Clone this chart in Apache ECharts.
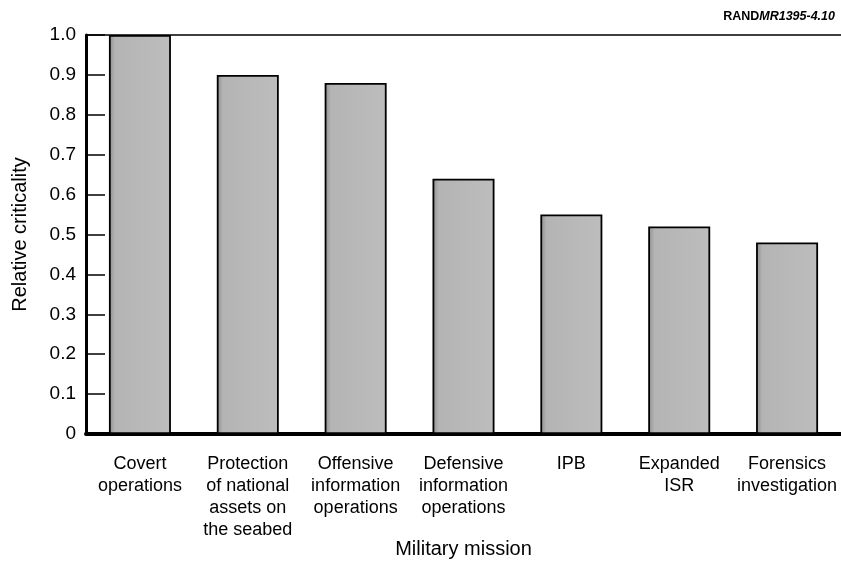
<!DOCTYPE html>
<html>
<head>
<meta charset="utf-8">
<script src="https://cdn.jsdelivr.net/npm/echarts@6/dist/echarts.min.js"></script>
<style>
  html, body { margin: 0; padding: 0; background: #fff; }
  #chart { width: 841px; height: 565px; }
</style>
</head>
<body>
<div id="chart"></div>
<script>
const missions = [
  "Covert\noperations",
  "Protection\nof national\nassets on\nthe seabed",
  "Offensive\ninformation\noperations",
  "Defensive\ninformation\noperations",
  "IPB",
  "Expanded\nISR",
  "Forensics\ninvestigation",
];
const criticality = [1.0, 0.9, 0.88, 0.64, 0.55, 0.52, 0.48];

const font = "Liberation Sans, Arial, Helvetica, sans-serif";
const chart = echarts.init(document.getElementById("chart"), null, { renderer: "canvas" });

// grey fill, a bit darker on the left edge like the scanned bars
const barFill = new echarts.graphic.LinearGradient(0, 0, 1, 0, [
  { offset: 0, color: "#8e8e8e" },
  { offset: 0.1, color: "#b4b4b4" },
  { offset: 1, color: "#bdbdbd" },
]);

const option = {
  backgroundColor: "#fff",
  animation: false,
  textStyle: { fontFamily: font, color: "#000" },
  title: {
    right: 1,
    top: 5,
    text: "{a|RAND}{b|MR1395-4.10}",
    textStyle: {
      rich: {
        a: { fontFamily: font, fontWeight: "bold", fontSize: 12.5, color: "#000" },
        b: { fontFamily: font, fontStyle: "italic", fontSize: 12.5, color: "#000" },
      },
    },
  },
  grid: { left: 86, right: 0, top: 35, bottom: 131, outerBoundsMode: "none" },
  xAxis: [
    {
      type: "category",
      data: missions,
      name: "Military mission",
      nameLocation: "middle",
      nameGap: 105,
      nameMoveOverlap: false,
      nameTextStyle: { fontSize: 20, color: "#000", fontFamily: font },
      axisLine: { lineStyle: { color: "#000", width: 4 } },
      axisTick: { show: false },
      axisLabel: {
        interval: 0,
        color: "#000",
        fontSize: 18,
        lineHeight: 22,
        margin: 19,
        fontFamily: font,
      },
    },
    {
      type: "category",
      position: "top",
      data: missions,
      axisLine: { lineStyle: { color: "#000", width: 1.5 } },
      axisTick: { show: false },
      axisLabel: { show: false },
    },
  ],
  yAxis: {
    type: "value",
    min: 0,
    max: 1,
    interval: 0.1,
    name: "Relative criticality",
    nameLocation: "middle",
    nameGap: 56,
    nameMoveOverlap: false,
    nameTextStyle: { fontSize: 20, color: "#000", fontFamily: font },
    axisLine: { show: true, lineStyle: { color: "#000", width: 3 } },
    axisTick: { show: true, inside: true, length: 19, lineStyle: { color: "#000", width: 1.5 } },
    splitLine: { show: false },
    axisLabel: {
      color: "#000",
      fontSize: 19,
      margin: 10,
      fontFamily: font,
      formatter: (v) => (v === 0 ? "0" : v.toFixed(1)),
    },
  },
  series: [
    {
      type: "bar",
      data: criticality,
      barWidth: 62,
      itemStyle: {
        color: barFill,
        borderColor: "#000",
        borderWidth: 1.8,
      },
    },
  ],
};
chart.setOption(option);
</script>
</body>
</html>
